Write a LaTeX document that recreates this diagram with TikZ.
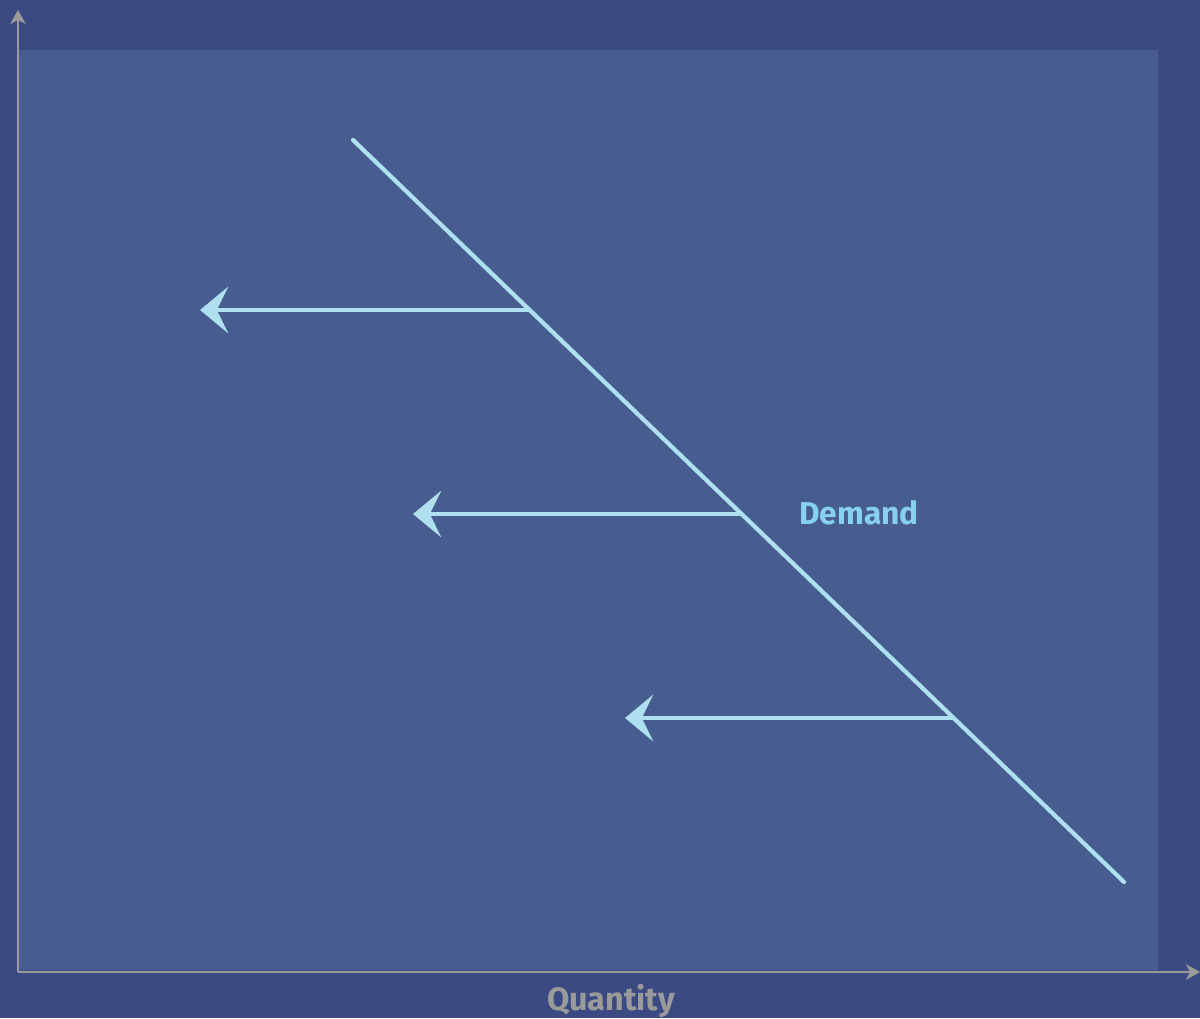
\documentclass[tikz,border=0pt]{standalone}
\usepackage{fontspec}
\setmainfont{Fira Sans}
\usepackage{xcolor}
\usepackage{tikz}
\usetikzlibrary{arrows.meta,positioning}

\definecolor{outerbg}{HTML}{3C4A84}
\definecolor{plotbg}{HTML}{475D8F}
\definecolor{axisgray}{HTML}{9A9A9A}
\definecolor{curveblue}{HTML}{AEE0F2}
\definecolor{labelblue}{HTML}{87D0EE}

\tikzset{
  axisline/.style={draw=axisgray, line width=1.6pt, -{Stealth[length=10pt, width=11pt, inset=3pt]}},
  curveline/.style={draw=curveblue, line width=3pt, line cap=round},
  shiftarrow/.style={draw=curveblue, line width=3pt, -{Stealth[length=20pt, width=33pt, inset=8pt]}},
  axislabel/.style={font=\bfseries\fontsize{23}{26}\selectfont, text=axisgray},
  curvelabel/.style={font=\bfseries\fontsize{22.5}{26}\selectfont, text=labelblue}
}

\begin{document}
\begin{tikzpicture}[x=0.025cm, y=-0.025cm]
    % Background and plot area
    \fill[outerbg] (0,0) rectangle (1200,1018);
    \useasboundingbox (0,0) rectangle (1200,1018);
    \fill[plotbg] (18,50) rectangle (1158,970);

    % Axes
    \coordinate (origin) at (18,972);
    \coordinate (xend) at (1200,972);
    \coordinate (yend) at (18,10);
    \draw[axisline] (origin) -- (xend);
    \draw[axisline] (origin) -- (yend);
    \node[axislabel] (qlabel) at (611,1001) {Quantity};

    % Demand curve
    \coordinate (dtop) at (353,140);
    \coordinate (dbot) at (1124,882);
    \draw[curveline] (dtop) -- (dbot);
    \node[curvelabel] (dlabel) at (859,513) {Demand};

    % Points on the curve and arrow ends
    \coordinate (p1) at (529.6,310);
    \coordinate (p2) at (741.6,514);
    \coordinate (p3) at (953.6,718);
    \coordinate (a1) at (200,310);
    \coordinate (a2) at (413,514);
    \coordinate (a3) at (625,718);

    % Leftward shifts
    \draw[shiftarrow] (p1) -- (a1);
    \draw[shiftarrow] (p2) -- (a2);
    \draw[shiftarrow] (p3) -- (a3);
\end{tikzpicture}
\end{document}
